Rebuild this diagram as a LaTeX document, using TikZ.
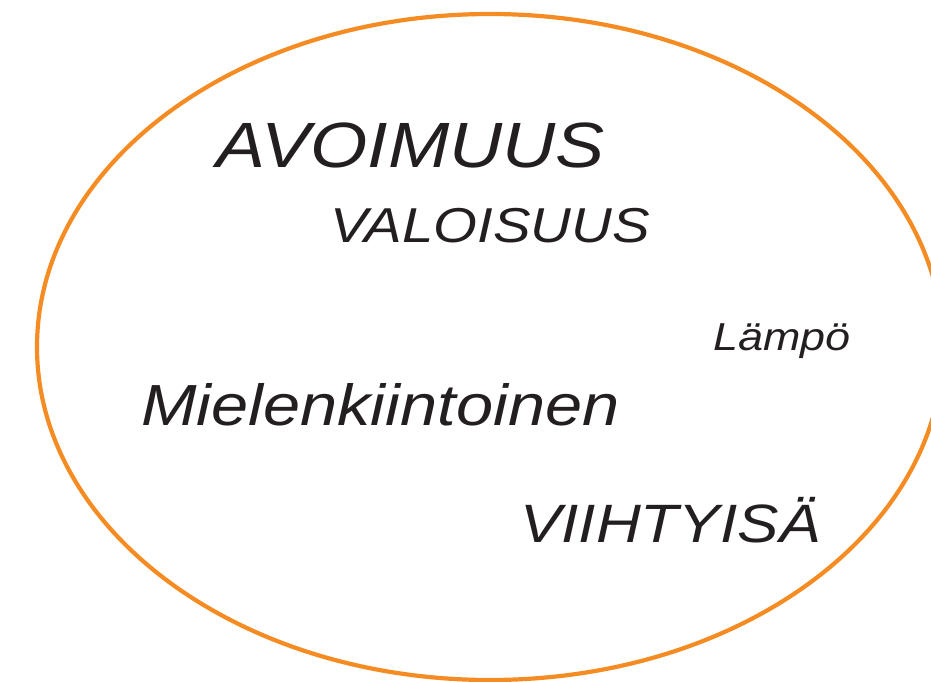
\documentclass[tikz,border=0pt]{standalone}
\usepackage{fontspec}
\usepackage{tikz}
\newfontfamily\handfont[FakeStretch=1.15]{Liberation Sans}
\definecolor{myorange}{RGB}{245,140,35}
\definecolor{myink}{RGB}{35,31,32}

\begin{document}
\begin{tikzpicture}[x=1pt,y=-1pt,
  ring/.style={draw=myorange, line width=4.2pt},
  word/.style={font=\handfont\itshape\fontsize{#1}{#1}\selectfont,
               text=myink, anchor=base west, inner sep=0pt}
]
  \useasboundingbox (0,0) rectangle (931,682);
  \clip (0,0) rectangle (931,682);
  \draw[ring] (490,347) ellipse [x radius=453, y radius=333];

  \node[word=64] (avoimuus) at (216,167) {AVOIMUUS};
  \node[word=49] (valoisuus) at (330,242) {VALOISUUS};
  \node[word=39] (lampo) at (713,350) {Lämpö};
  \node[word=58] (mielen) at (141,425) {Mielenkiintoinen};
  \node[word=54] (viihtyisa) at (520,542) {VIIHTYISÄ};
\end{tikzpicture}
\end{document}
